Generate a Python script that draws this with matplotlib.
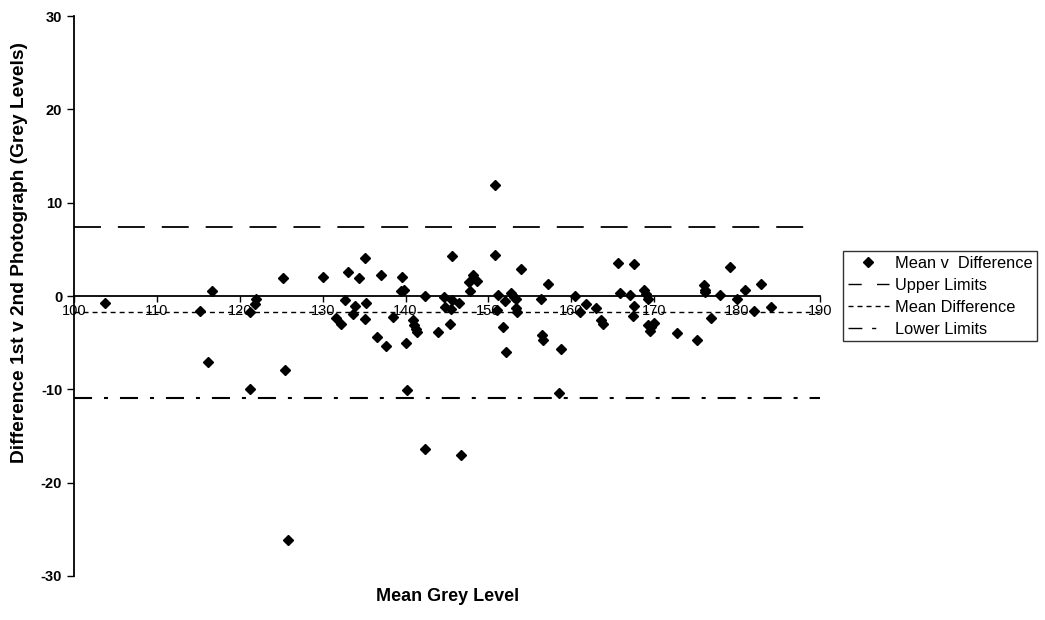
import matplotlib
matplotlib.use("Agg")
import matplotlib.pyplot as plt
from matplotlib.lines import Line2D

plt.rcParams["font.family"] = ["Liberation Sans", "DejaVu Sans"]
plt.rcParams["lines.scale_dashes"] = False
plt.rcParams["axes.unicode_minus"] = False

# Bland-Altman style data
mean_grey = [
    103.7, 115.2, 116.7, 116.2, 121.2, 121.8, 122.0, 121.2, 125.2, 125.4,
    125.8, 130.0, 131.6, 132.2, 132.7, 133.1, 133.6, 133.9, 134.4, 135.1,
    135.2, 135.1, 136.6, 137.0, 137.7, 138.5, 139.6, 139.4, 139.8, 140.0,
    140.2, 140.9, 141.0, 141.3, 141.4, 142.3, 142.3, 143.9, 144.6, 144.8,
    145.4, 145.5, 145.6, 145.6, 146.5, 146.7, 147.6, 147.8, 148.1, 148.6,
    150.8, 150.8, 151.0, 151.2, 151.8, 152.0, 152.1, 152.7, 153.1, 153.3,
    153.3, 153.5, 153.9, 156.3, 156.5, 156.6, 157.2, 158.8, 158.5, 160.5,
    161.0, 161.8, 163.0, 163.6, 163.8, 165.6, 165.9, 167.1, 167.6, 167.6,
    167.4, 168.8, 169.0, 169.2, 169.2, 169.6, 170.0, 169.5, 172.8, 175.2,
    176.0, 176.1, 176.1, 176.8, 177.9, 179.2, 180.0, 180.9, 182.0, 182.9,
    184.1,
]
difference = [
    -0.7, -1.6, 0.5, -7.1, -1.7, -0.8, -0.3, -10.0, 1.9, -7.9,
    -26.1, 2.0, -2.3, -3.0, -0.4, 2.6, -1.9, -1.1, 1.9, 4.1,
    -0.7, -2.5, -4.4, 2.3, -5.3, -2.2, 2.0, 0.5, 0.7, -5.0,
    -10.1, -2.6, -3.1, -3.5, -3.8, 0.0, -16.4, -3.8, -0.1, -1.2,
    -3.0, -1.4, 4.3, -0.4, -0.7, -17.0, 1.5, 0.5, 2.3, 1.6,
    11.9, 4.4, -1.5, 0.1, -3.3, -0.5, -6.0, 0.3, -0.1, -0.3,
    -1.3, -1.7, 2.9, -0.3, -4.2, -4.7, 1.3, -5.7, -10.4, 0.0,
    -1.7, -0.9, -1.3, -2.6, -3.0, 3.5, 0.3, 0.1, 3.4, -1.1,
    -2.1, 0.6, 0.2, -0.3, -3.1, -3.3, -2.9, -3.7, -4.0, -4.7,
    1.2, 0.7, 0.4, -2.4, 0.1, 3.1, -0.3, 0.7, -1.6, 1.3,
    -1.2,
]
upper_limit = 7.4
mean_diff = -1.7
lower_limit = -10.9

x_ticks = list(range(100, 191, 10))
y_ticks = list(range(-30, 31, 10))

fig = plt.figure(figsize=(10.45, 6.2), dpi=100)
ax = fig.add_axes([0.0708, 0.071, 0.7139, 0.903])

ax.plot(mean_grey, difference, ls="none", marker="D", ms=5.5, color="black",
        zorder=5)
ax.axhline(upper_limit, color="black", lw=1.3, ls=(0, (19.4, 12.2)))
ax.axhline(mean_diff, color="black", lw=1.0, ls=(0, (3.6, 2.9)))
ax.axhline(lower_limit, color="black", lw=1.5, ls=(0, (13, 8.6, 2.9, 8.6)))

ax.set_xlim(100, 190)
ax.set_ylim(-30, 30)
ax.set_xticks(x_ticks)
ax.set_yticks(y_ticks)

ax.spines["top"].set_visible(False)
ax.spines["right"].set_visible(False)
ax.spines["bottom"].set_position(("data", 0))
ax.spines["bottom"].set_linewidth(1.3)
ax.spines["left"].set_linewidth(1.3)

ax.tick_params(axis="x", direction="out", length=4, width=1, labelsize=10.5, pad=2)
ax.tick_params(axis="y", direction="out", length=5, width=1, labelsize=10.5)
for lbl in ax.get_yticklabels():
    lbl.set_fontweight("bold")

fig.text(0.019, 0.592, "Difference 1st v 2nd Photograph (Grey Levels)",
         fontsize=13.8, fontweight="bold", rotation=90,
         ha="center", va="center")
fig.text(0.428, 0.038, "Mean Grey Level", fontsize=13, fontweight="bold",
         ha="center", va="center")

# legend entries drawn with their own (shorter) dash patterns, as in the original
handles = [
    Line2D([], [], ls="none", marker="D", ms=5, color="black"),
    Line2D([], [], color="black", lw=1.0, ls=(0, (9.5, 11))),
    Line2D([], [], color="black", lw=1.0, ls=(0, (3.6, 2.9))),
    Line2D([], [], color="black", lw=1.0, ls=(0, (10, 7, 3, 30))),
]
labels = ["Mean v  Difference", "Upper Limits", "Mean Difference", "Lower Limits"]
leg = fig.legend(handles, labels, loc="upper left",
                 bbox_to_anchor=(843 / 1045, 1 - 251 / 620),
                 frameon=True, fancybox=False, fontsize=11.8,
                 handlelength=2.5, handletextpad=0.35, borderpad=0.3,
                 labelspacing=0.42, borderaxespad=0)
leg.get_frame().set_edgecolor("black")
leg.get_frame().set_linewidth(1.0)

fig.savefig("out.png", dpi=100)
